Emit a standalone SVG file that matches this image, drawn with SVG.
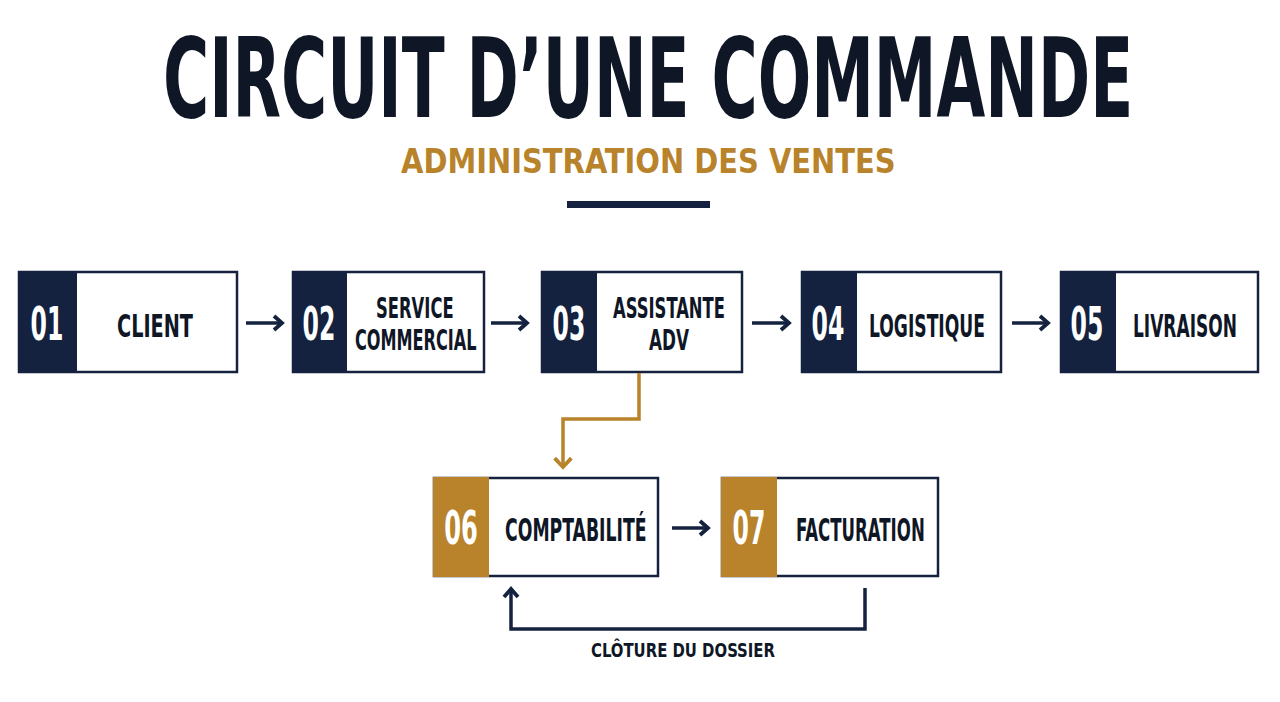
<svg xmlns="http://www.w3.org/2000/svg" width="1280" height="702" viewBox="0 0 1280 702">
<defs>
<style>
.t{font-family:"Liberation Sans Narrow","DejaVu Sans Condensed","Liberation Sans",sans-serif;font-weight:bold;font-stretch:condensed}
.box{fill:#ffffff;stroke:#14223f;stroke-width:2.5}
.nav{fill:#14223f}
.gold{fill:#b8832a}
.num{fill:#ffffff;font-size:46px;text-anchor:middle}
.lbl{fill:#0f1626;font-size:32px}
.lbl2{fill:#0f1626;font-size:29px}
.conn{fill:none;stroke:#14223f;stroke-width:3.5}
.connG{fill:none;stroke:#b8832a;stroke-width:3.5}
</style>
<marker id="ah" viewBox="0 0 18 18" refX="15" refY="9" markerWidth="18" markerHeight="18" markerUnits="userSpaceOnUse" orient="auto">
<path d="M7,2 L15,9 L7,16" fill="none" stroke="#14223f" stroke-width="3.8"/>
</marker>
<marker id="ahG" viewBox="0 0 18 18" refX="15" refY="9" markerWidth="20" markerHeight="20" markerUnits="userSpaceOnUse" orient="auto">
<path d="M7,1.5 L15,9 L7,16.5" fill="none" stroke="#b8832a" stroke-width="3.4"/>
</marker>
</defs>
<rect width="1280" height="702" fill="#ffffff"/>
<g id="title">
<text class="t" transform="translate(163,117) scale(0.6,1)" font-size="110" fill="#0f1626" textLength="1617" lengthAdjust="spacingAndGlyphs">CIRCUIT D’UNE COMMANDE</text>
<text class="t" transform="translate(401,173) scale(0.85,1)" font-size="34" fill="#b8832a" textLength="582" lengthAdjust="spacingAndGlyphs">ADMINISTRATION DES VENTES</text>
<rect x="567" y="201" width="143" height="7" class="nav"/>
</g>
<g id="n01">
<rect x="19" y="272" width="218" height="100" class="box"/>
<rect x="18" y="271" width="59" height="102" class="nav"/>
<text class="t num" transform="translate(47,340) scale(0.8,1)" textLength="41" lengthAdjust="spacingAndGlyphs">01</text>
<text class="t lbl" transform="translate(117,337) scale(0.8,1)" textLength="95" lengthAdjust="spacingAndGlyphs">CLIENT</text>
</g>
<g id="n02">
<rect x="293" y="272" width="191" height="100" class="box"/>
<rect x="292" y="271" width="55" height="102" class="nav"/>
<text class="t num" transform="translate(319,340) scale(0.8,1)" textLength="41" lengthAdjust="spacingAndGlyphs">02</text>
<text class="t lbl2" transform="translate(376,318) scale(0.8,1)" textLength="97" lengthAdjust="spacingAndGlyphs">SERVICE</text>
<text class="t lbl2" transform="translate(355,350) scale(0.8,1)" textLength="152" lengthAdjust="spacingAndGlyphs">COMMERCIAL</text>
</g>
<g id="n03">
<rect x="542" y="272" width="200" height="100" class="box"/>
<rect x="541" y="271" width="56" height="102" class="nav"/>
<text class="t num" transform="translate(569,340) scale(0.8,1)" textLength="41" lengthAdjust="spacingAndGlyphs">03</text>
<text class="t lbl2" transform="translate(613,318) scale(0.8,1)" textLength="140" lengthAdjust="spacingAndGlyphs">ASSISTANTE</text>
<text class="t lbl2" transform="translate(649,350) scale(0.8,1)" textLength="50" lengthAdjust="spacingAndGlyphs">ADV</text>
</g>
<g id="n04">
<rect x="802" y="272" width="199" height="100" class="box"/>
<rect x="801" y="271" width="56" height="102" class="nav"/>
<text class="t num" transform="translate(828,340) scale(0.8,1)" textLength="41" lengthAdjust="spacingAndGlyphs">04</text>
<text class="t lbl" transform="translate(869,337) scale(0.8,1)" textLength="145" lengthAdjust="spacingAndGlyphs">LOGISTIQUE</text>
</g>
<g id="n05">
<rect x="1061" y="272" width="197" height="100" class="box"/>
<rect x="1060" y="271" width="56" height="102" class="nav"/>
<text class="t num" transform="translate(1087,340) scale(0.8,1)" textLength="41" lengthAdjust="spacingAndGlyphs">05</text>
<text class="t lbl" transform="translate(1133,337) scale(0.8,1)" textLength="130" lengthAdjust="spacingAndGlyphs">LIVRAISON</text>
</g>
<g id="n06">
<rect x="434" y="478" width="224" height="98" class="box"/>
<rect x="433" y="477" width="56" height="100" class="gold"/>
<text class="t num" transform="translate(461,544) scale(0.8,1)" textLength="42" lengthAdjust="spacingAndGlyphs">06</text>
<text class="t lbl" transform="translate(505,541) scale(0.8,1)" textLength="177" lengthAdjust="spacingAndGlyphs">COMPTABILITÉ</text>
</g>
<g id="n07">
<rect x="722" y="478" width="216" height="98" class="box"/>
<rect x="721" y="477" width="56" height="100" class="gold"/>
<text class="t num" transform="translate(749,544) scale(0.8,1)" textLength="41" lengthAdjust="spacingAndGlyphs">07</text>
<text class="t lbl" transform="translate(796,541) scale(0.8,1)" textLength="161" lengthAdjust="spacingAndGlyphs">FACTURATION</text>
</g>
<g id="connectors">
<line x1="246" y1="323" x2="282" y2="323" class="conn" marker-end="url(#ah)"/>
<line x1="491" y1="323" x2="527" y2="323" class="conn" marker-end="url(#ah)"/>
<line x1="752" y1="323" x2="789" y2="323" class="conn" marker-end="url(#ah)"/>
<line x1="1012" y1="323" x2="1048" y2="323" class="conn" marker-end="url(#ah)"/>
<line x1="672" y1="528" x2="708" y2="528" class="conn" marker-end="url(#ah)"/>
<polyline points="639,373 639,419 563,419 563,467" class="connG" marker-end="url(#ahG)"/>
<polyline points="865,588 865,629 511,629 511,589" class="conn" marker-end="url(#ah)"/>
<text class="t" transform="translate(591,657) scale(0.8,1)" font-size="20" fill="#0f1626" textLength="230" lengthAdjust="spacingAndGlyphs">CLÔTURE DU DOSSIER</text>
</g>
</svg>
